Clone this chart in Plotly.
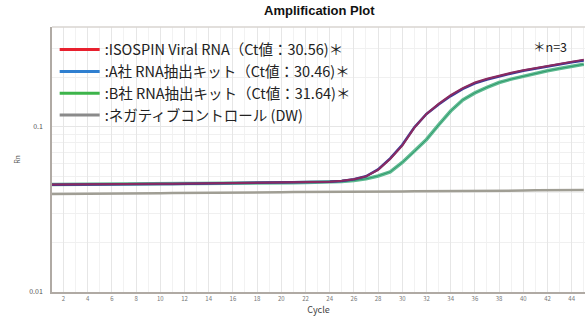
import plotly.graph_objects as go

cycles = list(range(1, 46))

isospin = [0.0448, 0.0449, 0.0449, 0.0450, 0.0450, 0.0451, 0.0451, 0.0452, 0.0452, 0.0453,
           0.0453, 0.0454, 0.0454, 0.0455, 0.0455, 0.0456, 0.0456, 0.0457, 0.0458, 0.0459,
           0.0460, 0.0461, 0.0463, 0.0466, 0.0472, 0.0482, 0.0502, 0.0550, 0.0640, 0.0770,
           0.0990, 0.120, 0.138, 0.156, 0.172, 0.186, 0.196, 0.205, 0.213, 0.221,
           0.228, 0.235, 0.242, 0.249, 0.256]

company_a = [0.0447, 0.0448, 0.0448, 0.0449, 0.0449, 0.0450, 0.0450, 0.0451, 0.0451, 0.0452,
             0.0452, 0.0453, 0.0453, 0.0454, 0.0454, 0.0455, 0.0455, 0.0456, 0.0457, 0.0458,
             0.0459, 0.0460, 0.0462, 0.0465, 0.0471, 0.0482, 0.0503, 0.0553, 0.0646, 0.0780,
             0.0995, 0.120, 0.137, 0.154, 0.170, 0.184, 0.194, 0.203, 0.211, 0.219,
             0.226, 0.233, 0.240, 0.247, 0.253]

company_b = [0.0449, 0.0449, 0.0450, 0.0450, 0.0451, 0.0451, 0.0452, 0.0452, 0.0453, 0.0453,
             0.0454, 0.0454, 0.0455, 0.0455, 0.0456, 0.0456, 0.0457, 0.0457, 0.0458, 0.0459,
             0.0460, 0.0461, 0.0462, 0.0464, 0.0468, 0.0474, 0.0485, 0.0505, 0.0535, 0.0610,
             0.0710, 0.0840, 0.103, 0.125, 0.146, 0.161, 0.174, 0.186, 0.195, 0.203,
             0.211, 0.219, 0.226, 0.233, 0.240]

negative = [0.0393, 0.0393, 0.0394, 0.0394, 0.0395, 0.0395, 0.0396, 0.0396, 0.0397, 0.0397,
            0.0398, 0.0398, 0.0399, 0.0399, 0.0400, 0.0400, 0.0401, 0.0401, 0.0402, 0.0402,
            0.0403, 0.0403, 0.0404, 0.0404, 0.0405, 0.0405, 0.0406, 0.0406, 0.0407, 0.0407,
            0.0408, 0.0408, 0.0409, 0.0409, 0.0410, 0.0410, 0.0411, 0.0411, 0.0412, 0.0412,
            0.0413, 0.0413, 0.0414, 0.0414, 0.0415]

legend_names = [":ISOSPIN Viral RNA（Ct値：30.56)＊",
                ":A社 RNA抽出キット（Ct値：30.46)＊",
                ":B社 RNA抽出キット（Ct値：31.64)＊",
                ":ネガティブコントロール (DW)"]
legend_colors = ["#e8202e", "#2f7fd0", "#3cb44a", "#8a8a8a"]

x_ticks = list(range(2, 45, 2))

fig = go.Figure()

# plotted curves (overlapping replicates rendered in mixed tones)
fig.add_trace(go.Scatter(x=cycles, y=negative, mode="lines", showlegend=False,
                         line=dict(color="#a09e94", width=2.5)))
fig.add_trace(go.Scatter(x=cycles, y=company_b, mode="lines", showlegend=False,
                         line=dict(color="#5fba92", width=3.5)))
fig.add_trace(go.Scatter(x=cycles, y=company_b, mode="lines", showlegend=False,
                         line=dict(color="#2f9a6a", width=1)))
fig.add_trace(go.Scatter(x=cycles, y=company_a, mode="lines", showlegend=False,
                         line=dict(color="#3a3a9a", width=2.5)))
fig.add_trace(go.Scatter(x=cycles, y=isospin, mode="lines", showlegend=False,
                         line=dict(color="#8a2a60", width=2)))

# legend entries
for name, col in zip(legend_names, legend_colors):
    fig.add_trace(go.Scatter(x=[None], y=[None], mode="lines", name=name,
                             line=dict(color=col, width=3)))

fig.update_layout(
    width=586, height=318,
    margin=dict(l=52, r=1, t=27, b=26),
    paper_bgcolor="white", plot_bgcolor="white",
    font=dict(family="Noto Sans CJK JP, Noto Sans, sans-serif", color="#222"),
    title=dict(text="<b>Amplification Plot</b>", x=0.545, xanchor="center",
               y=0.98, yanchor="top",
               font=dict(size=13, family="Liberation Sans, Arial, sans-serif", color="#111")),
    legend=dict(x=0.005, y=0.975, xanchor="left", yanchor="top",
                bgcolor="rgba(255,255,255,0)", font=dict(size=14.5, color="#222"),
                itemwidth=40, tracegroupgap=0),
    showlegend=True,
)

fig.update_xaxes(range=[1.05, 45.1], tickvals=x_ticks, ticktext=[str(t) for t in x_ticks],
                 tickfont=dict(size=6, color="#777"), showgrid=True, gridcolor="#e6e6e6",
                 minor=dict(showgrid=True, dtick=1, gridcolor="#f2f2f2"),
                 showline=True, linecolor="#b0aaa4", linewidth=1.5, mirror=False,
                 ticks="", zeroline=False,
                 title=dict(text="Cycle", font=dict(size=9, color="#444"), standoff=2))

fig.update_yaxes(type="log", range=[-2, -0.394], tickvals=[0.01, 0.1],
                 ticktext=["0.01", "0.1"], tickfont=dict(size=7, color="#555"),
                 ticklabelstandoff=6,
                 showgrid=True, gridcolor="#e6e6e6",
                 minor=dict(showgrid=True, dtick="D1", gridcolor="#f0f0f0"),
                 showline=True, linecolor="#b0aaa4", linewidth=1.5, mirror=False,
                 ticks="", zeroline=False,
                 title=dict(text="Rn", font=dict(size=7, color="#555"), standoff=8))

fig.add_annotation(text="＊n=3", xref="paper", yref="paper", x=0.97, y=0.925,
                   xanchor="right", yanchor="middle", showarrow=False,
                   font=dict(size=12.5, color="#222"))

fig.add_shape(type="line", xref="paper", yref="paper", x0=0, x1=1, y0=1, y1=1,
              line=dict(color="#d8d4d0", width=1.5))

fig.write_html("out.html", config={"displayModeBar": False},
               post_script="document.body.style.margin='0';document.body.style.overflow='hidden';")
